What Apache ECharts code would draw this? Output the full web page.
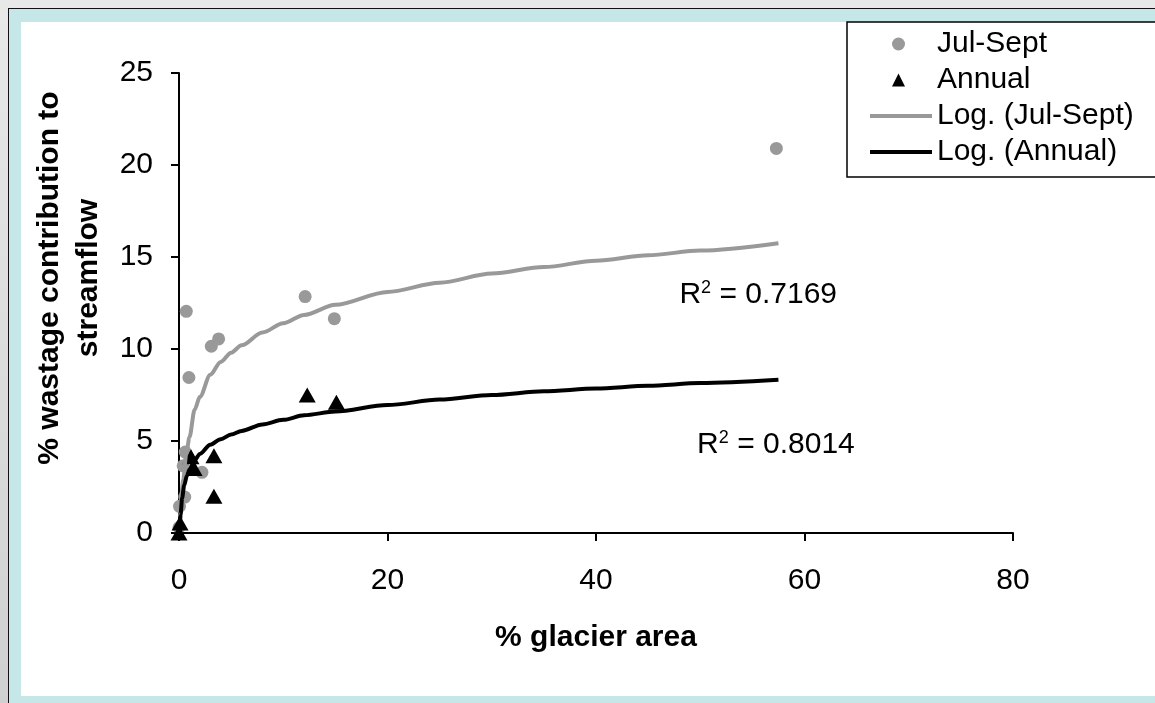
<!DOCTYPE html>
<html>
<head>
<meta charset="utf-8">
<script src="https://cdn.jsdelivr.net/npm/echarts@6/dist/echarts.min.js"></script>
<style>
  html, body { margin: 0; padding: 0; }
  body { width: 1155px; height: 703px; position: relative; overflow: hidden;
         background: linear-gradient(#e8e8e8, #d0d0d0); }
  #frame { position: absolute; left: 8px; top: 8px; right: 0; bottom: 0;
           background: #c5e7e7; border-left: 1.5px solid #111; border-top: 1.5px solid #111; }
  #inner { position: absolute; left: 21px; top: 22px; width: 1134px; height: 674px; background: #fff; }
  #chart { position: absolute; left: 0; top: 0; width: 1155px; height: 703px; }
</style>
</head>
<body>
<div id="frame"></div>
<div id="inner"></div>
<div id="chart"></div>
<script>
// scatter data: [glacier area %, wastage %]
const julSept = [
  [57.3, 20.9], [12.1, 12.85], [14.9, 11.65], [0.7, 12.05], [3.1, 10.15], [3.8, 10.55],
  [0.95, 8.45], [0.6, 4.4], [0.4, 3.65], [2.2, 3.3], [0.55, 1.95], [0.05, 1.45], [0.0, 0.3]
];
const annual = [
  [12.3, 7.5], [15.1, 7.1], [3.35, 4.2], [3.35, 2.0], [1.15, 4.15], [1.45, 3.5],
  [0.1, 0.55], [0.0, 0.0]
];
// trend lines
const logJulSeptX = [0.12, 0.2, 0.4, 0.7, 1, 1.5, 2, 3, 4, 5, 6, 8, 10, 12, 15, 20, 25, 30, 35, 40, 45, 50, 57.5];
const logJulSeptY = [0.9, 1.9, 2.9, 4.3, 5.2, 6.7, 7.4, 8.6, 9.3, 9.8, 10.2, 10.9, 11.4, 11.85, 12.4, 13.1, 13.6, 14.1, 14.45, 14.8, 15.1, 15.35, 15.75];
const logAnnualX = [0.07, 0.15, 0.3, 0.5, 0.75, 1, 1.5, 2, 3, 4, 5, 6, 8, 10, 12, 15, 20, 25, 30, 35, 40, 45, 50, 57.5];
const logAnnualY = [0.0, 1.0, 1.9, 2.6, 3.1, 3.45, 3.95, 4.3, 4.8, 5.1, 5.35, 5.55, 5.9, 6.15, 6.4, 6.6, 6.95, 7.25, 7.5, 7.7, 7.85, 8.0, 8.15, 8.33];
// R² annotations anchored in data units
const rSquared = [
  { x: 48.0, y: 12.95, value: '0.7169' },
  { x: 49.7, y: 4.8, value: '0.8014' }
];
const xTicks = { min: 0, max: 80, interval: 20 };
const yTicks = { min: 0, max: 25, interval: 5 };

const FONT = '"Liberation Sans", Arial, sans-serif';
const GRAY = '#999999';
const legendText = { fontFamily: FONT, fontSize: 30, color: '#000', lineHeight: 36 };
const chart = echarts.init(document.getElementById('chart'));

chart.setOption({
  animation: false,
  textStyle: { fontFamily: FONT },
  grid: { left: 179, right: 142, top: 73, bottom: 170, containLabel: false },
  graphic: [
    {
      type: 'rect', z: 1,
      shape: { x: 847, y: 22, width: 330, height: 155 },
      style: { fill: '#fff', stroke: '#000', lineWidth: 1.5 }
    }
  ],
  legend: [
    {
      // marker entries: small icons centred under the line icons
      z: 10,
      orient: 'vertical',
      left: 892, top: 26,
      padding: 0,
      itemGap: 0,
      itemWidth: 13, itemHeight: 13,
      data: [
        { name: 'Jul-Sept', icon: 'circle' },
        { name: 'Annual', icon: 'triangle' }
      ],
      textStyle: Object.assign({ padding: [0, 0, 0, 27] }, legendText)
    },
    {
      z: 10,
      orient: 'vertical',
      left: 868, top: 98,
      padding: 0,
      itemGap: 0,
      itemWidth: 62, itemHeight: 12,
      data: [
        { name: 'Log. (Jul-Sept)', itemStyle: { opacity: 0 }, lineStyle: { width: 4, color: GRAY } },
        { name: 'Log. (Annual)', itemStyle: { opacity: 0 }, lineStyle: { width: 4, color: '#000' } }
      ],
      textStyle: legendText
    }
  ],
  xAxis: {
    type: 'value',
    min: xTicks.min, max: xTicks.max, interval: xTicks.interval,
    name: '% glacier area',
    nameLocation: 'middle',
    nameGap: 90,
    nameTextStyle: { fontFamily: FONT, fontSize: 30, fontWeight: 'bold', color: '#000' },
    axisLine: { lineStyle: { color: '#000', width: 2 } },
    axisTick: { length: 8, lineStyle: { color: '#000', width: 2 } },
    axisLabel: { fontSize: 30, color: '#000', margin: 33 },
    splitLine: { show: false }
  },
  yAxis: {
    type: 'value',
    min: yTicks.min, max: yTicks.max, interval: yTicks.interval,
    name: '% wastage contribution to\nstreamflow',
    nameLocation: 'middle',
    nameGap: 70,
    nameRotate: 90,
    nameTextStyle: { fontFamily: FONT, fontSize: 30, fontWeight: 'bold', color: '#000',
                     lineHeight: 39, padding: [0, 0, 0, 50] },
    axisLine: { show: true, lineStyle: { color: '#000', width: 2 } },
    axisTick: { show: true, length: 8, lineStyle: { color: '#000', width: 2 } },
    axisLabel: { fontSize: 30, color: '#000', margin: 26 },
    splitLine: { show: false }
  },
  series: [
    {
      name: 'Jul-Sept',
      type: 'scatter',
      symbol: 'circle',
      symbolSize: 13,
      clip: false,
      itemStyle: { color: GRAY, opacity: 1 },
      data: julSept
    },
    {
      name: 'Annual',
      type: 'scatter',
      symbol: 'triangle',
      symbolSize: [17, 15],
      clip: false,
      itemStyle: { color: '#000', opacity: 1 },
      data: annual
    },
    {
      name: 'Log. (Jul-Sept)',
      type: 'line',
      showSymbol: false,
      symbol: 'none',
      smooth: 0.3,
      smoothMonotone: 'x',
      clip: false,
      lineStyle: { color: GRAY, width: 4 },
      itemStyle: { color: GRAY },
      data: logJulSeptX.map((x, i) => [x, logJulSeptY[i]])
    },
    {
      name: 'Log. (Annual)',
      type: 'line',
      showSymbol: false,
      symbol: 'none',
      smooth: 0.3,
      smoothMonotone: 'x',
      clip: false,
      lineStyle: { color: '#000', width: 4 },
      itemStyle: { color: '#000' },
      data: logAnnualX.map((x, i) => [x, logAnnualY[i]])
    },
    {
      name: 'R2',
      type: 'scatter',
      symbolSize: 0,
      silent: true,
      clip: false,
      itemStyle: { opacity: 1 },
      data: rSquared.map(r => ({ value: [r.x, r.y], text: r.value })),
      label: {
        show: true,
        position: 'inside',
        align: 'left',
        verticalAlign: 'middle',
        formatter: p => '{b|R}{s|2}{b| = ' + p.data.text + '}',
        rich: {
          b: { fontFamily: FONT, fontSize: 30, color: '#000' },
          s: { fontFamily: FONT, fontSize: 18, color: '#000', padding: [0, 0, 14, 0] }
        }
      }
    }
  ]
});
</script>
</body>
</html>
